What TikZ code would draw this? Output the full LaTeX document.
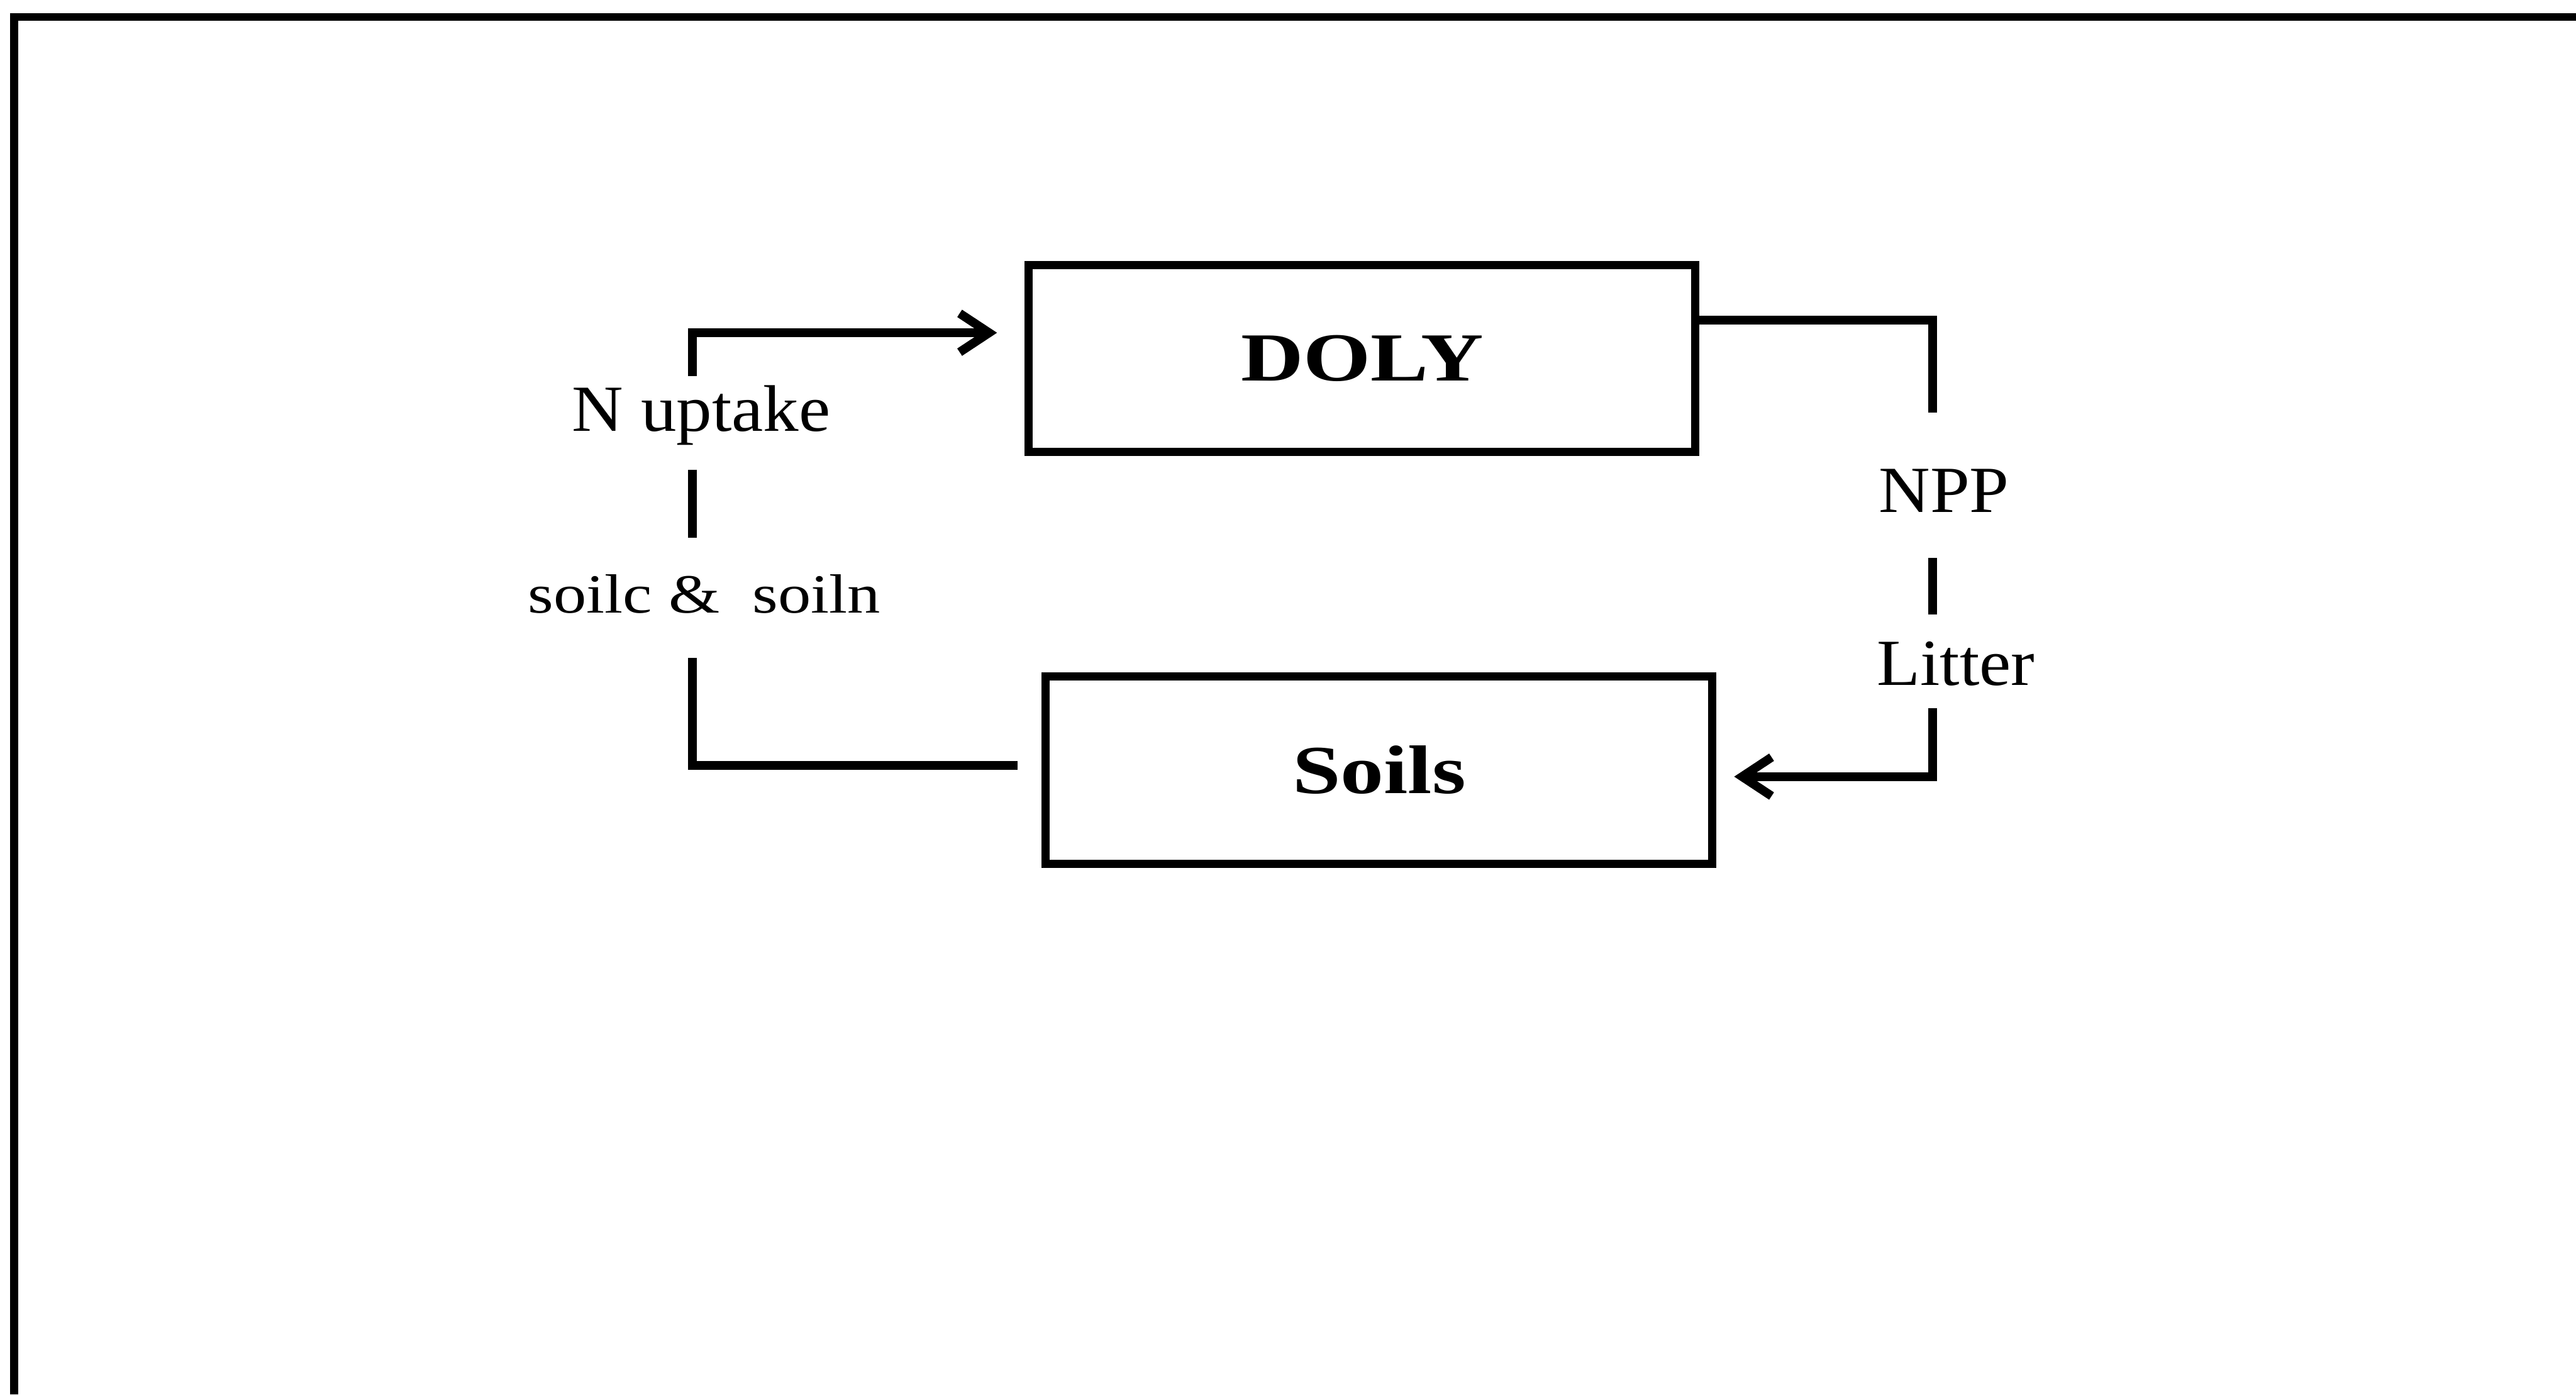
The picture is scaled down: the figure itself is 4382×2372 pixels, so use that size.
\documentclass[tikz,border=0pt]{standalone}
\usepackage{fontspec}
\setmainfont{Liberation Serif}
\newfontfamily\labelfont{Liberation Serif}[FakeStretch=1.08]
\newfontfamily\widelabelfont{Liberation Serif}[FakeStretch=1.19]
\newfontfamily\poolfont{Liberation Serif Bold}[FakeStretch=1.26]
\usetikzlibrary{arrows.meta,positioning}

\begin{document}
\begin{tikzpicture}[x=0.1pt,y=-0.1pt,
  pool/.style={draw, line width=1.4pt, minimum width=113.4pt, minimum height=31.8pt, inner sep=0pt, font=\poolfont\fontsize{11.7}{14}\selectfont},
  flux/.style={inner sep=3pt, font=\labelfont\fontsize{11.2}{13}\selectfont},
  link/.style={line width=1.5pt},
  flow/.style={link, -{Straight Barb[length=5pt,width=6.6pt]}}]
  \useasboundingbox (0,0) rectangle (4382,2372);
  \draw[line width=1.3pt] (4382,29) -- (24,29) -- (24,2372);

  \node[pool] (doly) at (2317,610) {DOLY};
  \node[pool] (soils) at (2346,1310) {Soils};
  \node[flux, anchor=base] (nup) at (1193,733) {N uptake};
  \node[flux, anchor=base, font=\widelabelfont\fontsize{9.4}{11}\selectfont] (soil) at (1198,1042) {soilc \&\ \ soiln};
  \node[flux, anchor=base] (npp) at (3307,871) {NPP};
  \node[flux, anchor=base] (litter) at (3327,1166) {Litter};

  \coordinate (lx) at (1178,0);
  \coordinate (rx) at (3288,0);
  \draw[link, shorten <=4.1pt] ([yshift=0.8pt]soils.west) -| ([yshift=-4.4pt]lx |- soil.south);
  \draw[link, shorten <=1pt, shorten >=3pt] (lx |- nup.south) -- (lx |- soil.north);
  \draw[flow, shorten >=4.7pt] ([yshift=-1.6pt]lx |- nup.north) |- ([yshift=4.4pt]doly.west);
  \draw[link, shorten >=6.4pt] ([yshift=6.5pt]doly.east) -| (rx |- npp.north);
  \draw[link, shorten <=4.6pt, shorten >=1.5pt] (rx |- npp.south) -- (rx |- litter.north);
  \draw[flow, shorten <=0.6pt, shorten >=3pt] (rx |- litter.south) |- ([yshift=-1.1pt]soils.east);
\end{tikzpicture}
\end{document}
